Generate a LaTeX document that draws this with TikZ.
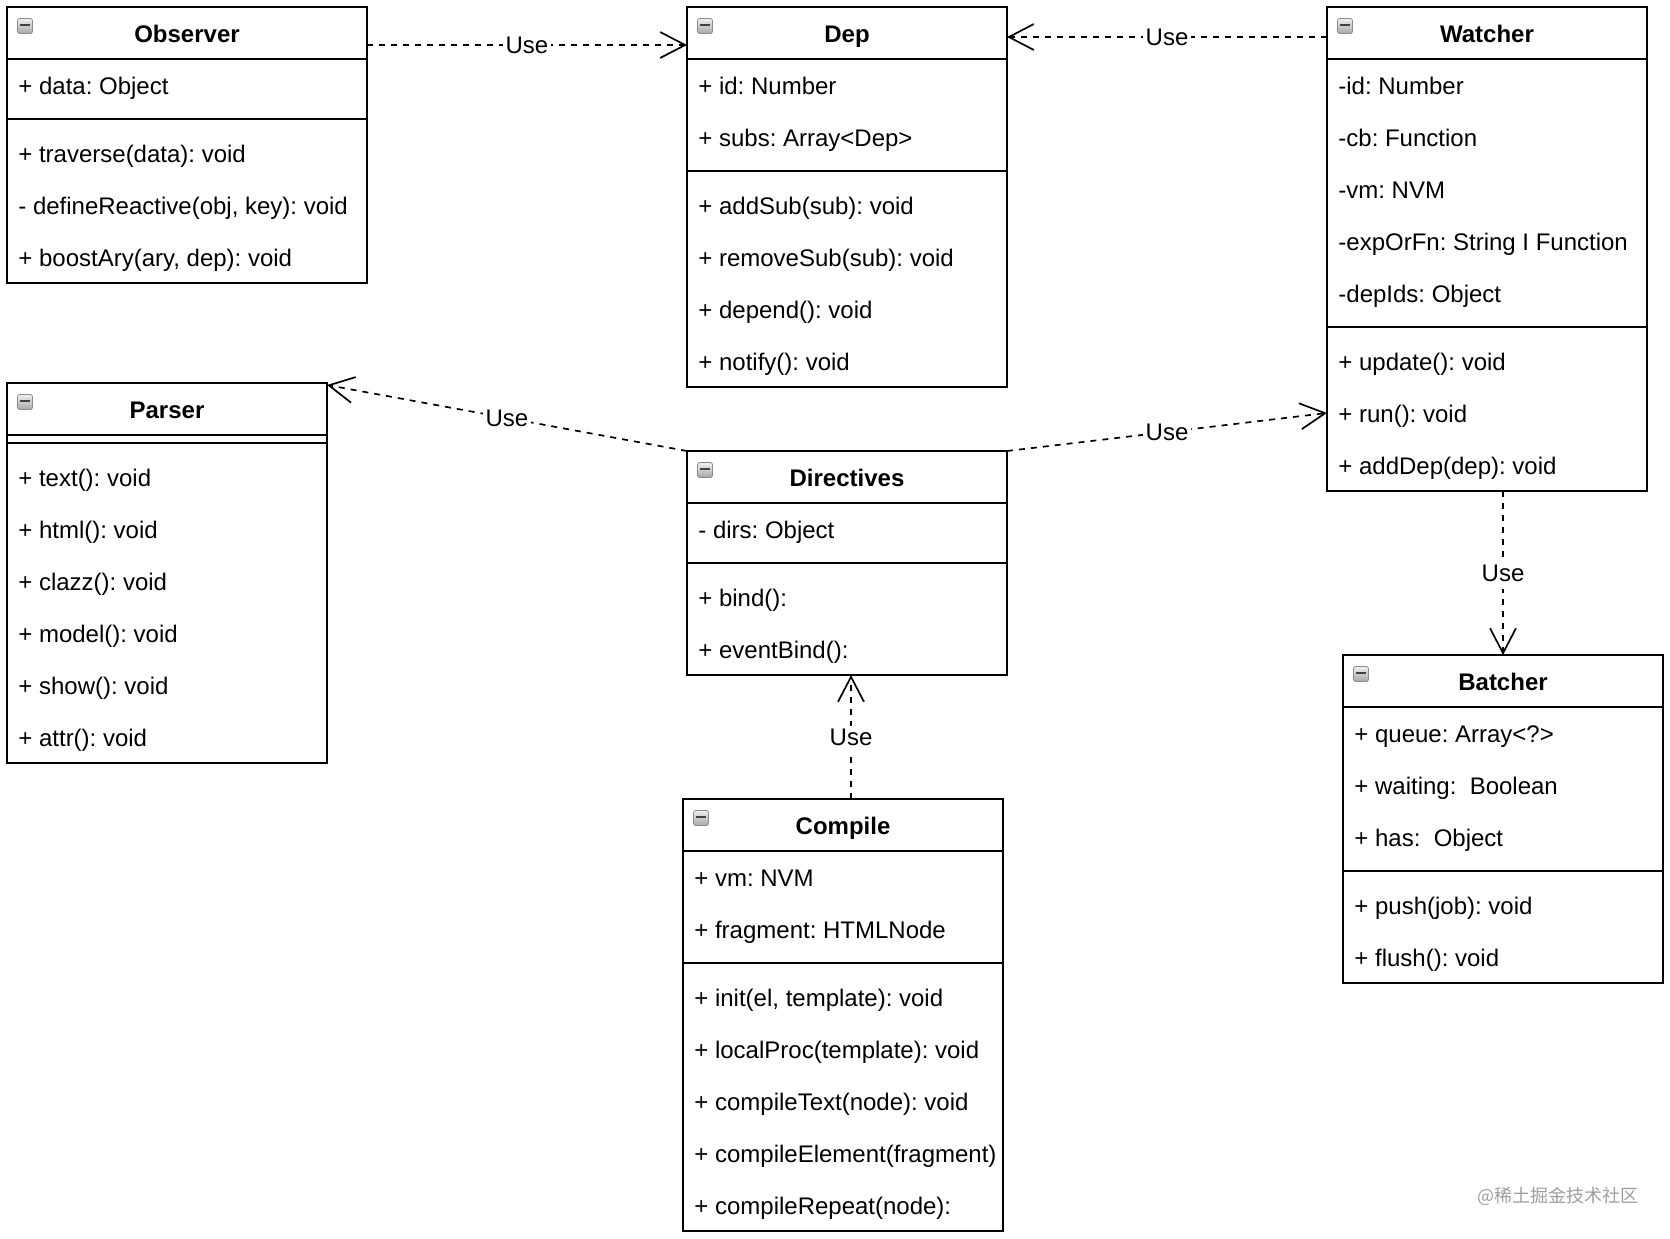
\documentclass[tikz,border=0pt]{standalone}
\usepackage{fontspec}
\setmainfont{Liberation Sans}
\newfontfamily\cjkfont{Noto Sans CJK SC}
\usetikzlibrary{arrows.meta,calc,shadings}
\frenchspacing
\tikzset{
  classbox/.style={rectangle, draw=black, line width=1pt, fill=white, anchor=north west, inner sep=0pt, outer sep=0pt},
  boxline/.style={draw=black, line width=1pt},
  titletext/.style={font=\fontsize{12pt}{14pt}\selectfont\bfseries, inner sep=0pt, text height=8.6pt, text depth=2.4pt, yshift=-1.5pt},
  rowtext/.style={font=\fontsize{12pt}{14pt}\selectfont, anchor=west, inner sep=0pt, text height=8.6pt, text depth=2.4pt, yshift=-1.5pt},
  icon/.style={rectangle, minimum width=7.5pt, minimum height=7.5pt, inner sep=0pt, rounded corners=0.8pt,
    draw=black!45, line width=0.4pt, top color=black!6, bottom color=black!35,
    path picture={\draw[line width=1.1pt, black!75] ([xshift=-2.3pt,yshift=0.7pt]path picture bounding box.center) -- ([xshift=2.3pt,yshift=0.7pt]path picture bounding box.center);}},
  usedep/.style={draw=black, line width=0.85pt, dash pattern=on 3pt off 3pt, -{Straight Barb[length=12.5pt,width=13pt]}},
  lbl/.style={font=\fontsize{12pt}{14pt}\selectfont, fill=white, inner sep=1.2pt, text height=8.6pt, text depth=2.4pt, yshift=-1.2pt},
  wm/.style={font=\cjkfont\fontsize{9pt}{11pt}\selectfont, text=black!38, inner sep=0pt}
}
\newcommand{\cls}[6]{%
  \node[classbox, minimum width={#4*0.5pt}, minimum height={#5*0.5pt}] (#1) at (#2,#3) {};
  \draw[boxline] ($(#1.north west)+(0,52)$) -- ($(#1.north east)+(0,52)$);
  \node[icon] (#1-icon) at ($(#1.north west)+(18,19)$) {};
  \node[titletext] (#1-title) at ($(#1.north)+(0,26)$) {#6};
}
\newcommand{\crow}[4]{\node[rowtext] (#1) at ($(#2.north west)+(11,#3)$) {#4};}
\newcommand{\csep}[2]{\draw[boxline] ($(#1.north west)+(0,#2)$) -- ($(#1.north east)+(0,#2)$);}
\begin{document}
\begin{tikzpicture}[x=0.5pt,y=-0.5pt]
\useasboundingbox[fill=white] (0,0) rectangle (1670,1238);

% Observer
\cls{obs}{7}{7}{360}{276}{Observer}
\crow{obs1}{obs}{78}{+ data: Object}
\csep{obs}{112}
\crow{obs2}{obs}{146}{+ traverse(data): void}
\crow{obs3}{obs}{198}{- defineReactive(obj, key): void}
\crow{obs4}{obs}{250}{+ boostAry(ary, dep): void}

% Dep
\cls{dep}{687}{7}{320}{380}{Dep}
\crow{dep1}{dep}{78}{+ id: Number}
\crow{dep2}{dep}{130}{+ subs: Array<Dep>}
\csep{dep}{164}
\crow{dep3}{dep}{198}{+ addSub(sub): void}
\crow{dep4}{dep}{250}{+ removeSub(sub): void}
\crow{dep5}{dep}{302}{+ depend(): void}
\crow{dep6}{dep}{354}{+ notify(): void}

% Watcher
\cls{wat}{1327}{7}{320}{484}{Watcher}
\crow{wat1}{wat}{78}{-id: Number}
\crow{wat2}{wat}{130}{-cb: Function}
\crow{wat3}{wat}{182}{-vm: NVM}
\crow{wat4}{wat}{234}{-expOrFn: String I Function}
\crow{wat5}{wat}{286}{-depIds: Object}
\csep{wat}{320}
\crow{wat6}{wat}{354}{+ update(): void}
\crow{wat7}{wat}{406}{+ run(): void}
\crow{wat8}{wat}{458}{+ addDep(dep): void}

% Parser
\cls{par}{7}{383}{320}{380}{Parser}
\csep{par}{60}
\crow{par1}{par}{94}{+ text(): void}
\crow{par2}{par}{146}{+ html(): void}
\crow{par3}{par}{198}{+ clazz(): void}
\crow{par4}{par}{250}{+ model(): void}
\crow{par5}{par}{302}{+ show(): void}
\crow{par6}{par}{354}{+ attr(): void}

% Directives
\cls{dir}{687}{451}{320}{224}{Directives}
\crow{dir1}{dir}{78}{- dirs: Object}
\csep{dir}{112}
\crow{dir2}{dir}{146}{+ bind():}
\crow{dir3}{dir}{198}{+ eventBind():}

% Compile
\cls{com}{683}{799}{320}{432}{Compile}
\crow{com1}{com}{78}{+ vm: NVM}
\crow{com2}{com}{130}{+ fragment: HTMLNode}
\csep{com}{164}
\crow{com3}{com}{198}{+ init(el, template): void}
\crow{com4}{com}{250}{+ localProc(template): void}
\crow{com5}{com}{302}{+ compileText(node): void}
\crow{com6}{com}{354}{+ compileElement(fragment)}
\crow{com7}{com}{406}{+ compileRepeat(node):}

% Batcher
\cls{bat}{1343}{655}{320}{328}{Batcher}
\crow{bat1}{bat}{78}{+ queue: Array<?>}
\crow{bat2}{bat}{130}{+ waiting:\ \ Boolean}
\crow{bat3}{bat}{182}{+ has:\ \ Object}
\csep{bat}{216}
\crow{bat4}{bat}{250}{+ push(job): void}
\crow{bat5}{bat}{302}{+ flush(): void}

% connectors
\coordinate (e1a) at ($(obs.north east)+(0,38)$);
\coordinate (e1b) at ($(dep.north west)+(0,38)$);
\draw[usedep] (e1a) -- node[lbl] (u1) {Use} (e1b);

\coordinate (e2a) at ($(wat.north west)+(0,30)$);
\coordinate (e2b) at ($(dep.north east)+(0,30)$);
\draw[usedep] (e2a) -- node[lbl] (u2) {Use} (e2b);

\coordinate (e3b) at ($(par.north east)+(0,2)$);
\draw[usedep] (dir.north west) -- node[lbl] (u3) {Use} (e3b);

\coordinate (e4b) at ($(wat.north west)+(0,406)$);
\draw[usedep] (dir.north east) -- node[lbl] (u4) {Use} (e4b);

\coordinate (e5a) at (bat.north |- wat.south);
\draw[usedep] (e5a) -- node[lbl] (u5) {Use} (bat.north);

\coordinate (e6a) at ($(com.north)+(8,0)$);
\coordinate (e6b) at (e6a |- dir.south);
\draw[usedep] (e6a) -- node[lbl] (u6) {Use} (e6b);

% watermark
\node[wm] (wm) at (1558,1196) {@稀土掘金技术社区};
\end{tikzpicture}
\end{document}
